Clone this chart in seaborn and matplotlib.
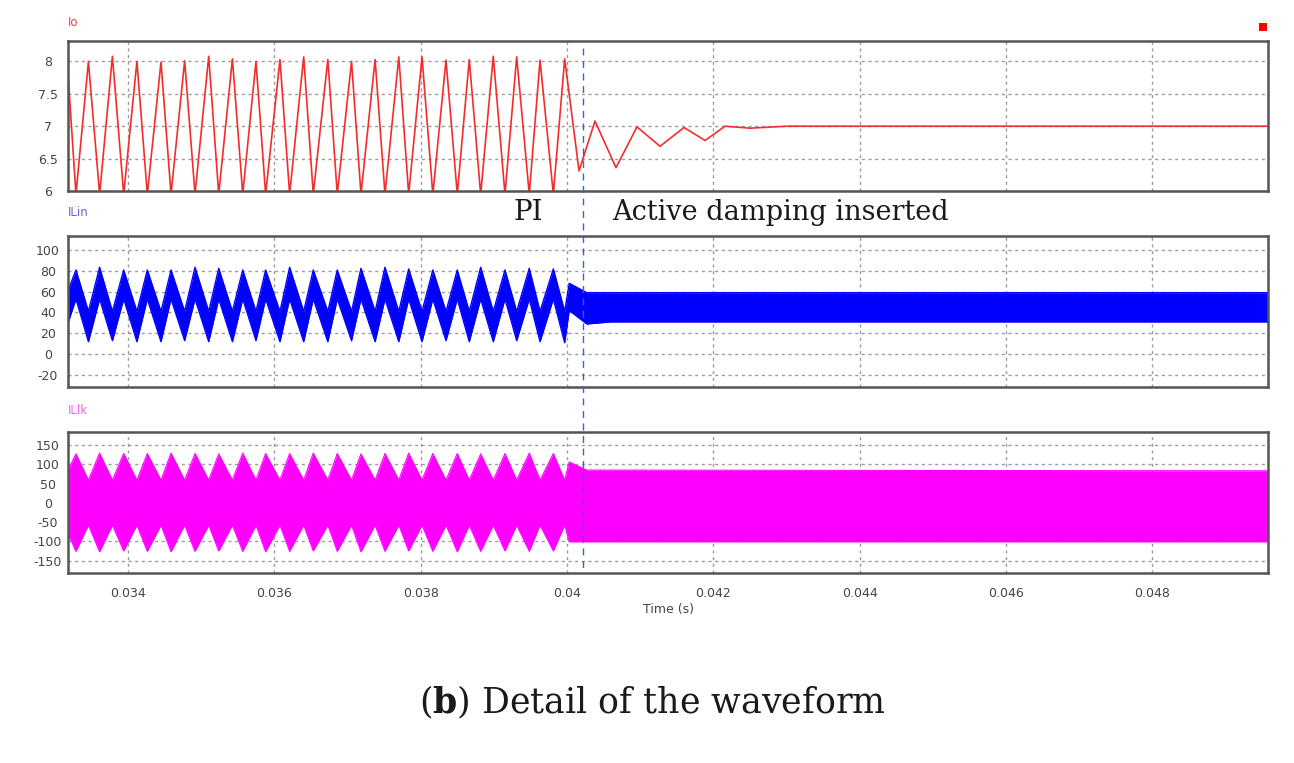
import matplotlib
matplotlib.use("Agg")
import matplotlib.pyplot as plt
from matplotlib import transforms
from matplotlib.lines import Line2D
from matplotlib.patches import Rectangle
import numpy as np
import pandas as pd
import seaborn as sns

# --- values read off the scope capture -------------------------------------
# peak times of ILin / ILlk (Io bottoms out at the same instants)
ilin_peak_t = [0.033289, 0.033612, 0.033941, 0.034264, 0.034588, 0.034916, 0.035240,
               0.035568, 0.035881, 0.036209, 0.036532, 0.036860, 0.037184, 0.037512,
               0.037836, 0.038166, 0.038500, 0.038820, 0.039152, 0.039484, 0.039813]
# peak times of Io (ILin bottoms out at the same instants)
io_peak_t = [0.033459, 0.033787, 0.034122, 0.034451, 0.034774, 0.035103, 0.035427,
             0.035749, 0.036077, 0.036401, 0.036731, 0.037055, 0.037377, 0.037701,
             0.038018, 0.038346, 0.038664, 0.038992, 0.039312, 0.039631, 0.039968]

io_peak_v = [8.00, 8.08, 8.00, 7.99, 8.01, 8.08, 8.04, 8.00, 8.03, 8.07, 8.03,
             8.00, 8.03, 8.07, 8.07, 8.02, 8.03, 8.08, 8.07, 8.02, 8.04]
io_trough_v = 5.95
io_start_t, io_start_v = 0.03318, 7.8
# damped response after active damping is switched in
io_tail_t = [0.040164, 0.040382, 0.040669, 0.040956, 0.041271, 0.041599,
             0.041886, 0.042159, 0.042501, 0.043000, 0.049580]
io_tail_v = [6.31, 7.08, 6.36, 6.99, 6.69, 6.98, 6.78, 7.00, 6.97, 7.00, 7.00]

ilin_peak_v = [80.8, 83.4, 80.8, 80.8, 80.8, 83.4, 82.4, 80.8, 80.8, 83.4, 80.8,
               80.8, 82.4, 83.4, 81.8, 80.8, 80.8, 83.4, 80.8, 82.4, 81.8]
ilin_trough_v = [12, 13, 12, 12, 13, 12, 12, 13, 12, 12, 12,
                 13, 12, 12, 12, 13, 12, 12, 13, 12, 11]
ilin_upper_at_trough = 41
ilin_lower_at_peak = 53
ilin_start = (0.03318, 61, 30)
ilin_tail_t = [0.04003, 0.04027, 0.04060, 0.04958]
ilin_tail_upper = [68, 59, 59, 59]
ilin_tail_lower = [42, 29, 31, 31]

illk_peak_v = [127, 129, 128, 128, 129, 128, 127, 129, 128, 128, 129,
               128, 127, 128, 129, 128, 128, 127, 128, 129, 128]
illk_low_v = [-126, -127, -125, -126, -127, -126, -125, -126, -127, -126, -125,
              -126, -127, -126, -125, -126, -127, -126, -125, -126, -125]
illk_upper_at_trough = 59
illk_lower_at_trough = -58
illk_start = (0.03318, 85, -80)
illk_tail_t = [0.04003, 0.04027, 0.04958]
illk_tail_upper = [106, 85, 83]
illk_tail_lower = [-101, -101, -101]

switch_t = 0.040214
x_ticks = [0.034, 0.036, 0.038, 0.040, 0.042, 0.044, 0.046, 0.048]
x_lim = (0.03318, 0.04958)

# --- assemble the traces ------------------------------------------------------
io_t = [io_start_t]
io_v = [io_start_v]
for ta, tb, vb in zip(ilin_peak_t, io_peak_t, io_peak_v):
    io_t += [ta, tb]
    io_v += [io_trough_v, vb]
io_df = pd.DataFrame({"t": io_t + io_tail_t, "Io": io_v + io_tail_v})

band_t = [ilin_start[0]]
ilin_up = [ilin_start[1]]
ilin_lo = [ilin_start[2]]
illk_up = [illk_start[1]]
illk_lo = [illk_start[2]]
for i in range(len(ilin_peak_t)):
    band_t += [ilin_peak_t[i], io_peak_t[i]]
    ilin_up += [ilin_peak_v[i], ilin_upper_at_trough]
    ilin_lo += [ilin_lower_at_peak, ilin_trough_v[i]]
    illk_up += [illk_peak_v[i], illk_upper_at_trough]
    illk_lo += [illk_low_v[i], illk_lower_at_trough]
ilin_df = pd.DataFrame({"t": band_t + ilin_tail_t,
                        "upper": ilin_up + ilin_tail_upper,
                        "lower": ilin_lo + ilin_tail_lower})
illk_df = pd.DataFrame({"t": band_t + illk_tail_t,
                        "upper": illk_up + illk_tail_upper,
                        "lower": illk_lo + illk_tail_lower})

# --- figure --------------------------------------------------------------------
sns.set_style("white")
plt.rcParams["font.family"] = ["DejaVu Sans"]
plt.rcParams["axes.unicode_minus"] = False

W, H = 1294, 763
fig = plt.figure(figsize=(W / 100, H / 100), dpi=100)


def fx(px):
    return px / W


def fy(py):
    return 1 - py / H


left, right = 68, 1268
ax1 = fig.add_axes([fx(left), fy(191), fx(right - left), (191 - 40.7) / H])
ax2 = fig.add_axes([fx(left), fy(386.7), fx(right - left), (386.7 - 236) / H], sharex=ax1)
ax3 = fig.add_axes([fx(left), fy(573.3), fx(right - left), (573.3 - 432.3) / H], sharex=ax1)

sns.lineplot(data=io_df, x="t", y="Io", ax=ax1, color="#f52c2c", linewidth=1.2,
             estimator=None, sort=False)
ax2.fill_between(ilin_df["t"], ilin_df["lower"], ilin_df["upper"], color="#0000ff", linewidth=0)
sns.lineplot(data=ilin_df, x="t", y="upper", ax=ax2, color="#0000ff", linewidth=1.0, estimator=None)
sns.lineplot(data=ilin_df, x="t", y="lower", ax=ax2, color="#0000ff", linewidth=1.0, estimator=None)
ax3.fill_between(illk_df["t"], illk_df["lower"], illk_df["upper"], color="#ff00ff", linewidth=0)
sns.lineplot(data=illk_df, x="t", y="upper", ax=ax3, color="#ff00ff", linewidth=0.8, estimator=None)
sns.lineplot(data=illk_df, x="t", y="lower", ax=ax3, color="#ff00ff", linewidth=0.8, estimator=None)

ax1.set_ylim(6, 8.32)
ax1.set_yticks([6, 6.5, 7, 7.5, 8])
ax1.set_yticklabels(["6", "6.5", "7", "7.5", "8"])
ax2.set_ylim(-31.2, 113.4)
ax2.set_yticks([-20, 0, 20, 40, 60, 80, 100])
ax3.set_ylim(-183, 183)
ax3.set_yticks([-150, -100, -50, 0, 50, 100, 150])

ax1.set_xlim(*x_lim)
ax3.set_xticks(x_ticks)
ax3.set_xticklabels([f"{v:g}" for v in x_ticks])

for ax in (ax1, ax2, ax3):
    ax.grid(True, color="#9a9a9a", linestyle=(0, (2.2, 2.6)), linewidth=1.0)
    ax.set_axisbelow(True)
    ax.set_xlabel("")
    ax.set_ylabel("")
    ax.tick_params(length=0, labelsize=9, colors="#444444")
    ax.tick_params(axis="y", pad=14.5)
    for lab in ax.get_yticklabels():
        lab.set_horizontalalignment("center")
    for sp in ax.spines.values():
        sp.set_color("#555555")
        sp.set_linewidth(1.8)
for ax in (ax1, ax2):
    ax.tick_params(labelbottom=False)
ax3.tick_params(axis="x", pad=10)

fig.text(fx(668), fy(610), "Time (s)", ha="center", va="center", fontsize=9, color="#444444")

# channel names
fig.text(fx(68), fy(22), "Io", color="#ee4444", fontsize=8.5, va="center")
fig.text(fx(68), fy(212), "ILin", color="#6f5ff0", fontsize=8.5, va="center")
fig.text(fx(68), fy(410), "ILlk", color="#ee66ee", fontsize=8.5, va="center")
fig.patches.append(Rectangle((fx(1259), fy(31)), 8 / W, 8 / H, transform=fig.transFigure,
                             facecolor="#ff0000", edgecolor="none"))

# switching instant, drawn across all three panels
trans = transforms.blended_transform_factory(ax3.transData, fig.transFigure)
fig.add_artist(Line2D([switch_t, switch_t], [fy(48), fy(573)], transform=trans,
                      color="#3b66b8", linestyle=(0, (5, 4)), linewidth=1.0))

serif = ["DejaVu Serif"]
fig.text(fx(528), fy(213), "PI", family=serif, fontsize=20, ha="center", va="center",
         color="#1a1a1a")
fig.text(fx(612), fy(213), "Active damping inserted", family=serif, fontsize=19.5,
         ha="left", va="center", color="#1a1a1a")

plt.rcParams["mathtext.fontset"] = "custom"
plt.rcParams["mathtext.bf"] = "DejaVu Serif:bold"
plt.rcParams["mathtext.rm"] = "DejaVu Serif"
fig.text(fx(652), fy(702), r"($\mathbf{b}$) Detail of the waveform", family=serif,
         fontsize=25, ha="center", va="center", color="#1a1a1a")

fig.savefig("out.png", dpi=100, facecolor="white")
